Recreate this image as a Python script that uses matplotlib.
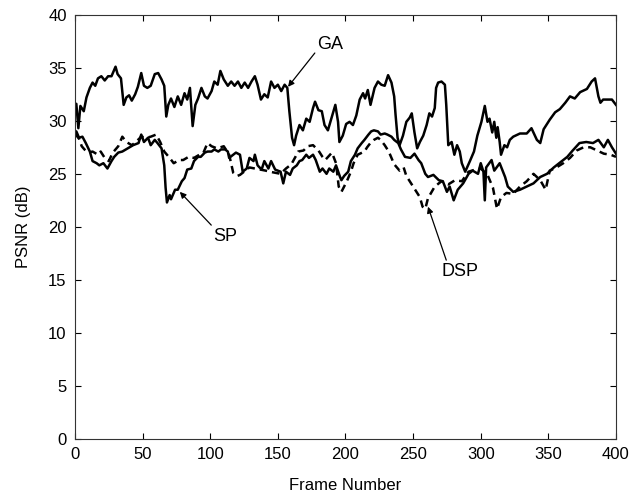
import numpy as np
import matplotlib
matplotlib.use("Agg")
import matplotlib.pyplot as plt

plt.rcParams['font.family'] = ['Liberation Sans', 'DejaVu Sans']

# GA curve (frame, PSNR)
ga_frames = [0, 1, 2.5, 4, 6.5, 8.5, 11, 13, 15, 17, 19.5, 22, 24.5, 27, 30, 31.5, 34, 36,
             38, 40, 42, 44.5, 46.5, 49, 51, 53.5, 56, 59, 61.5, 64, 66, 67.5, 69, 71, 73.5,
             76, 78.5, 81, 83, 85, 87, 89, 91, 93.5, 96, 98, 101, 103, 105.5, 107.5, 110, 113,
             115.5, 118, 120.5, 123, 125.5, 128, 130.5, 133, 135, 137.5, 140, 142.5, 145, 147.5,
             150, 152.5, 155, 157, 158.5, 160.5, 162, 163.5, 166, 168.5, 171, 173.5, 176, 177.5,
             180, 182.5, 184.5, 187, 189.5, 192.5, 194.5, 195.5, 198, 200.5, 203, 205.5, 208,
             210.5, 213, 214.5, 216.5, 218.5, 221.5, 224, 226.5, 229, 231.5, 234, 236, 237,
             238.5, 240, 242.5, 245, 247.5, 249, 251, 253, 255, 257.5, 260, 262, 264, 266, 267,
             268.5, 271, 273.5, 274.5, 276, 278.5, 280.5, 282.5, 284.5, 286, 288.5, 292, 295,
             297.5, 300.5, 303, 305, 306.5, 308.5, 310, 311.5, 312.5, 314, 315, 317.5, 319.5,
             321.5, 324, 329, 334, 337.5, 341.5, 344, 346.5, 351, 355, 358.5, 362.5, 366, 369.5,
             373.5, 378.5, 382, 384.5, 387, 388.5, 390.5, 394, 397, 400]
ga_psnr = [31.5, 31.6, 29.3, 31.4, 30.9, 32.2, 33.1, 33.6, 33.3, 34.0, 34.2, 33.8, 34.2, 34.2,
           35.1, 34.4, 34.0, 31.5, 32.2, 32.4, 31.9, 32.5, 33.2, 34.5, 33.3, 33.1, 33.3, 34.4,
           34.5, 33.9, 33.3, 30.4, 31.5, 32.1, 31.3, 32.3, 31.5, 32.6, 32.0, 33.1, 29.5, 31.5,
           32.1, 33.1, 32.3, 32.1, 32.8, 33.7, 33.4, 34.7, 33.9, 33.3, 33.7, 33.3, 33.7, 33.1,
           33.6, 33.1, 33.7, 34.2, 33.4, 32.0, 32.5, 32.2, 33.7, 33.1, 33.4, 32.8, 33.4, 33.1,
           30.9, 28.4, 27.7, 28.6, 29.6, 29.1, 30.2, 29.9, 31.2, 31.8, 31.0, 30.9, 29.6, 29.1,
           30.2, 31.5, 29.9, 28.0, 28.6, 29.7, 29.9, 29.6, 30.5, 32.0, 32.6, 32.1, 32.9, 31.5,
           33.1, 33.7, 33.4, 33.3, 34.3, 33.6, 32.3, 30.6, 28.4, 27.7, 28.6, 29.9, 30.3, 30.7,
           28.9, 27.4, 28.0, 28.6, 29.6, 30.7, 30.4, 31.2, 33.1, 33.6, 33.7, 33.4, 31.5, 27.7,
           28.0, 26.8, 27.7, 27.1, 26.0, 25.2, 26.2, 27.1, 28.6, 29.9, 31.4, 29.9, 30.2, 28.9,
           29.9, 28.4, 29.4, 28.0, 26.8, 27.7, 27.5, 28.2, 28.5, 28.8, 28.8, 29.3, 28.2, 27.9,
           29.2, 30.1, 30.8, 31.1, 31.7, 32.3, 32.1, 32.7, 33.0, 33.7, 34.0, 32.3, 31.7, 32.0,
           32.0, 32.0, 31.5]

# SP curve
sp_frames = [0, 1, 3, 5.5, 8, 11, 13, 16, 18, 21, 24, 27, 29, 32, 35, 39, 43, 47, 49, 51, 54,
             56, 59, 61, 64, 66, 67, 68, 70, 71, 74, 76, 79, 81, 83, 86, 88, 91, 93, 96, 98,
             101, 103, 106, 108, 111, 113, 114, 117, 119, 122, 124, 127, 129, 132, 133, 135,
             138, 140, 143, 145, 148, 150, 152, 154, 156, 159, 161, 164, 166, 168, 171, 173,
             176, 178, 181, 183, 186, 188, 191, 193, 196, 197, 199, 202, 204, 207, 209, 212,
             214, 217, 219, 221, 224, 226, 229, 231, 234, 236, 239, 241, 244, 248, 251, 254,
             256, 259, 261, 265, 269, 272, 275, 277, 280, 283, 287, 291, 294, 298, 300, 302,
             303, 304, 308, 310, 314, 318, 320, 324, 329, 334, 339, 344, 349, 354, 359, 364,
             368, 373, 378, 383, 387, 391, 394, 397, 400]
sp_psnr = [28.8, 29.0, 28.4, 28.5, 27.9, 27.1, 26.2, 26.0, 25.8, 26.0, 25.5, 26.2, 26.6, 27.0,
           27.1, 27.4, 27.7, 27.9, 28.7, 28.0, 28.4, 27.7, 28.2, 27.9, 27.4, 25.8, 23.7, 22.3,
           23.0, 22.6, 23.5, 23.5, 24.3, 24.6, 25.4, 25.5, 26.2, 26.6, 26.6, 27.0, 27.1, 27.1,
           27.3, 27.1, 27.3, 27.3, 27.1, 26.5, 26.8, 27.0, 26.8, 25.2, 25.5, 26.5, 26.2, 26.8,
           25.8, 25.4, 26.2, 25.5, 26.2, 25.4, 25.3, 25.2, 24.1, 25.2, 24.9, 25.5, 25.8, 26.2,
           26.3, 26.8, 26.5, 26.8, 26.3, 25.2, 25.5, 25.0, 25.5, 25.2, 25.8, 24.7, 24.4, 24.8,
           25.2, 26.2, 26.8, 27.4, 27.9, 28.2, 28.7, 29.0, 29.1, 29.0, 28.7, 28.8, 28.7, 28.5,
           28.2, 27.9, 27.3, 26.6, 26.5, 26.9, 26.3, 26.0, 25.0, 24.7, 24.9, 24.4, 24.3, 23.3,
           23.8, 22.5, 23.5, 24.1, 25.0, 25.3, 25.0, 26.0, 25.2, 22.5, 25.6, 26.3, 25.3, 26.0,
           24.7, 23.8, 23.3, 23.5, 23.8, 24.1, 24.7, 25.0, 25.6, 26.1, 26.6, 27.2, 27.9, 28.0,
           27.9, 28.2, 27.5, 28.2, 27.5, 26.9]

# DSP curve (dashed)
dsp_frames = [0, 3, 5, 7, 10, 13, 17, 19, 22, 25, 28, 32, 35, 38, 42, 45, 49, 53, 56, 60, 63,
              66, 70, 73, 77, 80, 84, 88, 92, 95, 98, 101, 105, 110, 114, 117, 120, 122, 126,
              129, 133, 137, 141, 144, 148, 152, 156, 160, 163, 165, 169, 172, 176, 180, 183,
              185, 190, 193, 195, 197, 201, 204, 206, 209, 214, 216, 219, 221, 224, 226, 229,
              231, 233, 236, 240, 243, 245, 248, 251, 255, 257, 259, 261, 266, 271, 276, 281,
              286, 291, 296, 300, 305, 309, 312, 315, 319, 324, 329, 334, 339, 344, 348, 351,
              356, 361, 366, 371, 376, 381, 386, 391, 396, 400]
dsp_psnr = [28.8, 28.3, 27.6, 27.3, 27.0, 27.1, 26.8, 27.1, 26.5, 26.2, 27.0, 27.6, 28.5, 28.0,
            27.7, 28.0, 28.5, 28.4, 28.5, 28.7, 28.0, 27.1, 26.5, 26.0, 26.3, 26.3, 26.6, 26.5,
            26.8, 27.0, 27.9, 27.6, 27.4, 27.6, 26.8, 25.1, 24.8, 24.9, 25.3, 25.6, 25.5, 25.4,
            25.3, 25.2, 25.1, 25.0, 25.5, 25.9, 26.6, 27.1, 27.2, 27.6, 27.7, 27.2, 26.6, 26.3,
            27.0, 26.0, 23.8, 23.3, 24.3, 25.2, 26.0, 26.8, 27.1, 27.5, 28.0, 28.2, 28.4, 28.2,
            27.7, 27.3, 26.8, 25.9, 25.3, 25.6, 24.8, 24.2, 23.6, 22.8, 21.9, 21.7, 22.7, 23.8,
            24.3, 24.0, 24.4, 24.3, 25.2, 25.4, 25.5, 24.9, 23.7, 21.7, 22.8, 23.2, 23.1, 23.8,
            24.3, 25.0, 24.4, 23.5, 25.3, 25.6, 26.0, 26.5, 27.2, 27.5, 27.5, 27.2, 26.9, 26.8,
            26.6]

fig = plt.figure(figsize=(6.43, 4.95), dpi=100)
ax = fig.add_axes([0.1166, 0.1131, 0.8414, 0.8572])

ax.plot(ga_frames, ga_psnr, color='black', lw=1.8)
ax.plot(sp_frames, sp_psnr, color='black', lw=1.8)
ax.plot(dsp_frames, dsp_psnr, color='black', lw=1.8, dashes=(3, 2))

ax.set_xlim(0, 400)
ax.set_ylim(0, 40)
ax.set_xticks(np.arange(0, 401, 50))
ax.set_yticks(np.arange(0, 41, 5))
ax.tick_params(direction='in', top=True, right=True, length=4, labelsize=12, width=0.8, pad=6)
for s in ax.spines.values():
    s.set_linewidth(0.8)
    s.set_color('#333333')
ax.set_xlabel('Frame Number', fontsize=12, labelpad=11)
ax.set_ylabel('PSNR (dB)', fontsize=12, labelpad=12)

arrow = dict(arrowstyle='-|>', color='black', lw=0.9, mutation_scale=9, shrinkA=0, shrinkB=0)
ax.annotate('GA', xy=(157.5, 33.2), xytext=(189, 37.2), fontsize=13, ha='center', va='center',
            arrowprops=dict(arrow, relpos=(0.0, 0.2)))
ax.annotate('SP', xy=(77.5, 23.3), xytext=(111, 19.1), fontsize=13, ha='center', va='center',
            arrowprops=dict(arrow, relpos=(0.1, 0.9)))
ax.annotate('DSP', xy=(261, 21.9), xytext=(285, 15.8), fontsize=13, ha='center', va='center',
            arrowprops=dict(arrow, relpos=(0.15, 0.95)))

fig.savefig('out.png', dpi=100)
